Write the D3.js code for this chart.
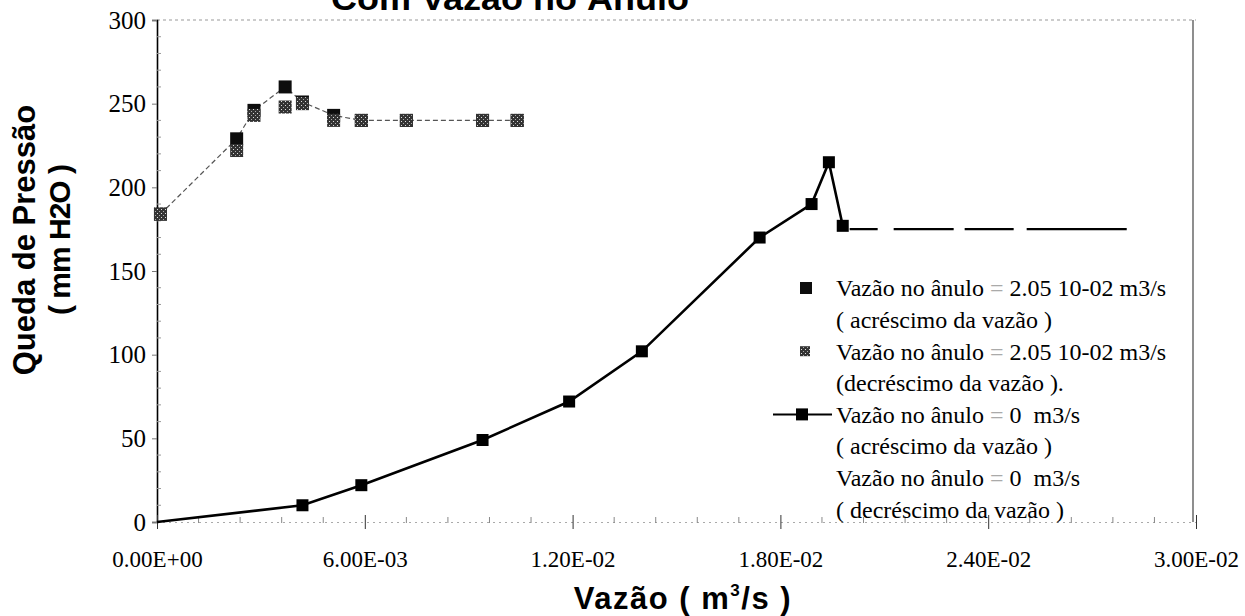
<!DOCTYPE html>
<html><head><meta charset="utf-8">
<script src="https://cdn.jsdelivr.net/npm/d3@7"></script>
<style>body{margin:0;background:#fff;} svg{display:block}
.serif{font-family:'Liberation Serif','Times New Roman',serif;}
.sans{font-family:'Liberation Sans',Arial,sans-serif;font-weight:bold;}
</style>
</head><body><svg id="c" width="1245" height="616"></svg>
<script>
// ---- data ----
const xTickValues = [0, 0.006, 0.012, 0.018, 0.024, 0.030];
const xTickLabels = ["0.00E+00", "6.00E-03", "1.20E-02", "1.80E-02", "2.40E-02", "3.00E-02"];
const yTickValues = [0, 50, 100, 150, 200, 250, 300];

// annulus flow 2.05e-2 m3/s, increasing flow
const up205X = [0.0001, 0.0023, 0.0028, 0.0037, 0.0042, 0.0051, 0.0059, 0.0072, 0.0094, 0.0104];
const up205Y = [184, 229, 246, 260, 251, 243, 240, 240, 240, 240];
// annulus flow 2.05e-2 m3/s, decreasing flow
const down205X = [0.0001, 0.0023, 0.0028, 0.0037, 0.0042, 0.0051, 0.0059, 0.0072, 0.0094, 0.0104];
const down205Y = [184, 222, 243, 248, 250, 240, 240, 240, 240, 240];
// annulus flow 0, increasing flow
const up0X = [0, 0.0042, 0.0059, 0.0094, 0.0119, 0.0140, 0.0174, 0.0189, 0.0194, 0.0198];
const up0Y = [0, 10, 22, 49, 72, 102, 170, 190, 215, 177];
// annulus flow 0, decreasing flow
const down0X = [0.0200, 0.0280];
const down0Y = [175, 175];

const legendLines = [
  ["Vazão no ânulo ", "=", " 2.05 10-02 m3/s"],
  ["( acréscimo da vazão )"],
  ["Vazão no ânulo ", "=", " 2.05 10-02 m3/s"],
  ["(decréscimo da vazão )."],
  ["Vazão no ânulo ", "=", " 0  m3/s"],
  ["( acréscimo da vazão )"],
  ["Vazão no ânulo ", "=", " 0  m3/s"],
  ["( decréscimo da vazão )"]
];

const titleText = "Com Vazão no Ânulo";
const xTitle = "Vazão ( m";
const yTitle1 = "Queda de Pressão";
const yTitle2 = "( mm H2O )";

// ---- drawing ----
const svg = d3.select("#c");
const X0 = 157, X1 = 1196, Y0 = 522, Y1 = 20;
const x = d3.scaleLinear().domain([0, 0.03]).range([X0, X1]);
const y = d3.scaleLinear().domain([0, 300]).range([Y0, Y1]);

const defs = svg.append("defs");
const pat = defs.append("pattern").attr("id", "speck").attr("patternUnits", "userSpaceOnUse")
  .attr("width", 4).attr("height", 4);
pat.append("rect").attr("width", 4).attr("height", 4).attr("fill", "#333");
pat.append("rect").attr("x", 1).attr("y", 1).attr("width", 1).attr("height", 1).attr("fill", "#ddd");
pat.append("rect").attr("x", 3).attr("y", 3).attr("width", 1).attr("height", 1).attr("fill", "#aaa");

// title (partially cut at top, as in the source)
svg.append("text").attr("class", "sans").attr("x", 510).attr("y", 10).attr("text-anchor", "middle")
  .attr("font-size", 33).attr("textLength", 358).attr("lengthAdjust", "spacingAndGlyphs")
  .text(titleText);

// plot frame: top dotted, right solid
svg.append("line").attr("x1", X0).attr("x2", X1).attr("y1", Y1).attr("y2", Y1)
  .attr("stroke", "#999").attr("stroke-dasharray", "3,3");
svg.append("line").attr("x1", X1 - 3).attr("x2", X1 - 3).attr("y1", Y1).attr("y2", Y0)
  .attr("stroke", "#444").attr("stroke-width", 1.2);

// y axis
const yAxis = svg.append("g").attr("transform", `translate(${X0},0)`)
  .call(d3.axisLeft(y).tickValues(yTickValues).tickSize(5).tickPadding(6));
yAxis.attr("font-family", null);
yAxis.select(".domain").attr("stroke", "#000").attr("stroke-width", 1.6);
yAxis.selectAll(".tick line").attr("stroke", "#777");
yAxis.selectAll(".tick text").attr("class", "serif").attr("font-size", 25).attr("fill", "#000");
// y minor ticks
svg.append("g").selectAll("line").data(d3.range(10, 300, 10).filter(v => v % 50 !== 0))
  .join("line").attr("x1", X0).attr("x2", X0 + 4).attr("y1", d => y(d)).attr("y2", d => y(d))
  .attr("stroke", "#999");

// x axis
const xAxis = svg.append("g").attr("transform", `translate(0,${Y0})`)
  .call(d3.axisBottom(x).tickValues(xTickValues).tickSize(7).tickPadding(38)
    .tickFormat((d, i) => xTickLabels[i]));
xAxis.attr("font-family", null);
xAxis.select(".domain").attr("stroke", "#aaa").attr("stroke-dasharray", "2,4");
xAxis.selectAll(".tick line").attr("y1", -7).attr("stroke", "#333");
xAxis.selectAll(".tick text").attr("class", "serif").attr("font-size", 23).attr("fill", "#000")
  .attr("dy", "0em");
// x minor ticks
svg.append("g").selectAll("line").data(d3.range(1, 25).filter(k => k % 5 !== 0).map(k => k * 0.0012))
  .join("line").attr("x1", d => x(d)).attr("x2", d => x(d)).attr("y1", Y0 - 5).attr("y2", Y0 + 1)
  .attr("stroke", "#888");

// axis titles
const xt = svg.append("text").attr("class", "sans").attr("x", 683).attr("y", 609).attr("text-anchor", "middle")
  .attr("font-size", 31).attr("letter-spacing", 1.5).attr("xml:space", "preserve");
xt.append("tspan").text(xTitle);
xt.append("tspan").attr("font-size", 17).attr("dy", -13).text("3");
xt.append("tspan").attr("dy", 13).text("/s )");

const yt = svg.append("g").attr("transform", "translate(0,240) rotate(-90)");
yt.append("text").attr("class", "sans").attr("x", 0).attr("y", 35).attr("text-anchor", "middle")
  .attr("font-size", 31).text(yTitle1);
yt.append("text").attr("class", "sans").attr("x", 0).attr("y", 70).attr("text-anchor", "middle")
  .attr("font-size", 30).attr("letter-spacing", -1).attr("xml:space", "preserve").text(yTitle2);

const pts = (xs, ys) => xs.map((v, i) => ({x: v, y: ys[i]}));
const line = d3.line().x(d => x(d.x)).y(d => y(d.y));

// upper series line (thin, broken)
svg.append("path").datum(pts(up205X, up205Y)).attr("d", line).attr("fill", "none")
  .attr("stroke", "#555").attr("stroke-width", 1.2).attr("stroke-dasharray", "5,3");

// lower series lines
svg.append("path").datum(pts(down0X, down0Y)).attr("d", line).attr("fill", "none")
  .attr("stroke", "#000").attr("stroke-width", 2.4).attr("stroke-dasharray", "28,16,60,11,49,13,98,0");
svg.append("path").datum(pts(up0X, up0Y)).attr("d", line).attr("fill", "none")
  .attr("stroke", "#000").attr("stroke-width", 2.6);

const M = 13;
// markers
svg.append("g").selectAll("rect").data(pts(up205X, up205Y)).join("rect")
  .attr("x", d => x(d.x) - M / 2).attr("y", d => y(d.y) - M / 2).attr("width", M).attr("height", M)
  .attr("fill", "#0d0d0d");
svg.append("g").selectAll("rect").data(pts(down205X, down205Y)).join("rect")
  .attr("x", d => x(d.x) - M / 2).attr("y", d => y(d.y) - M / 2).attr("width", M).attr("height", M)
  .attr("fill", "url(#speck)");
svg.append("g").selectAll("rect").data(pts(up0X, up0Y).filter(d => d.x > 0)).join("rect")
  .attr("x", d => x(d.x) - 6).attr("y", d => y(d.y) - 6).attr("width", 12).attr("height", 12)
  .attr("fill", "#000");

// legend
const LX = 836, LY = 288, LS = 31.6;
const lg = svg.append("g");
legendLines.forEach((parts, i) => {
  const t = lg.append("text").attr("class", "serif").attr("x", LX).attr("y", LY + i * LS).attr("dy", "0.35em")
    .attr("font-size", 24).attr("fill", "#000").attr("xml:space", "preserve");
  parts.forEach(p => t.append("tspan").attr("fill", p === "=" ? "#aaa" : "#000").text(p));
});
lg.append("rect").attr("x", 800).attr("y", LY - 6).attr("width", 12).attr("height", 12).attr("fill", "#0d0d0d");
lg.append("rect").attr("x", 800).attr("y", LY + 2 * LS - 5).attr("width", 10).attr("height", 10).attr("fill", "url(#speck)");
lg.append("line").attr("x1", 773).attr("x2", 832).attr("y1", LY + 4 * LS).attr("y2", LY + 4 * LS)
  .attr("stroke", "#000").attr("stroke-width", 2);
lg.append("rect").attr("x", 796).attr("y", LY + 4 * LS - 6).attr("width", 12).attr("height", 12).attr("fill", "#000");
</script></body></html>
